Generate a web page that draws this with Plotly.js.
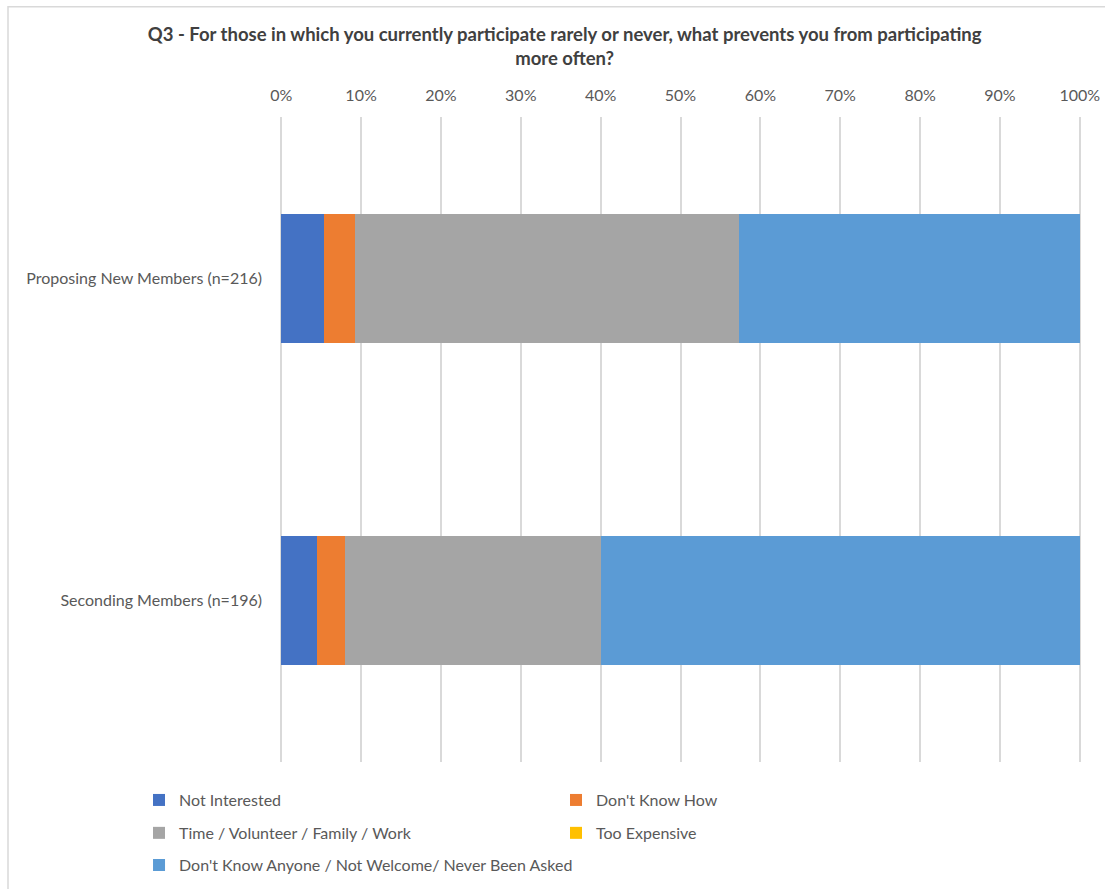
<!DOCTYPE html>
<html>
<head>
<meta charset="utf-8">
<script src="https://cdn.plot.ly/plotly-3.0.1.min.js"></script>
<style>html,body{margin:0;padding:0;background:#fff;}</style>
</head>
<body>
<div id="chart" style="width:1105px;height:889px;"></div>
<script>
const categories = ["Proposing New Members (n=216)", "Seconding Members (n=196)"];
const seriesNames = ["Not Interested", "Don't Know How", "Time / Volunteer / Family / Work", "Too Expensive", "Don't Know Anyone / Not Welcome/ Never Been Asked"];
const notInterested = [0.054, 0.045];
const dontKnowHow = [0.038, 0.035];
const timeVolunteer = [0.481, 0.321];
const tooExpensive = [0, 0];
const dontKnowAnyone = [0.427, 0.599];
const seriesColors = ["#4472C4", "#ED7D31", "#A5A5A5", "#FFC000", "#5B9BD5"];
const legendGroups = ["legend", "legend", "legend2", "legend2", "legend3"];
const tickVals = [0, 0.1, 0.2, 0.3, 0.4, 0.5, 0.6, 0.7, 0.8, 0.9, 1.0];
const tickText = ["0%", "10%", "20%", "30%", "40%", "50%", "60%", "70%", "80%", "90%", "100%"];

const seriesValues = [notInterested, dontKnowHow, timeVolunteer, tooExpensive, dontKnowAnyone];
const traces = seriesValues.map((vals, i) => ({
  type: 'bar',
  orientation: 'h',
  name: seriesNames[i],
  x: vals,
  y: categories,
  marker: {color: seriesColors[i]},
  legend: legendGroups[i],
  hoverinfo: 'x+name'
}));

const font = {family: 'Lato, "Open Sans", sans-serif', color: '#595959', size: 16};
const legendBase = {
  orientation: 'h',
  xref: 'paper', yref: 'paper',
  x: -0.176, xanchor: 'left', yanchor: 'middle',
  entrywidth: 372, entrywidthmode: 'pixels',
  font: {family: font.family, color: '#595959', size: 16},
  bgcolor: 'rgba(0,0,0,0)',
  traceorder: 'normal'
};

const layout = {
  width: 1105, height: 889,
  paper_bgcolor: '#ffffff', plot_bgcolor: '#ffffff',
  font: font,
  margin: {l: 280, r: 24, t: 117, b: 127, autoexpand: false},
  barmode: 'stack',
  bargap: 0.6,
  title: {
    text: '<b>Q3 - For those in which you currently participate rarely or never, what prevents you from participating<br>more often?</b>',
    font: {family: font.family, size: 18.5, color: '#404040'},
    x: 0.511, xref: 'container', xanchor: 'center',
    y: 0.954, yref: 'container', yanchor: 'middle'
  },
  xaxis: {
    side: 'top',
    range: [-0.0015, 1.0015],
    tickvals: tickVals,
    ticktext: tickText,
    showgrid: true,
    gridcolor: '#d9d9d9',
    gridwidth: 2,
    zeroline: false,
    showline: false,
    ticks: '',
    ticklabelstandoff: 12,
    automargin: false,
    tickfont: {family: font.family, size: 16, color: '#595959'},
    fixedrange: true
  },
  yaxis: {
    categoryorder: 'array',
    categoryarray: categories,
    autorange: 'reversed',
    showgrid: false,
    zeroline: false,
    showline: false,
    ticks: '',
    ticklabelstandoff: 17,
    automargin: false,
    tickfont: {family: font.family, size: 16, color: '#595959'},
    fixedrange: true
  },
  legend: Object.assign({}, legendBase, {y: -0.059}),
  legend2: Object.assign({}, legendBase, {y: -0.110}),
  legend3: Object.assign({}, legendBase, {y: -0.160, entrywidth: 600}),
  shapes: [{
    type: 'rect', xref: 'paper', yref: 'paper',
    x0: (8 - 280) / 801, x1: (1110 - 280) / 801,
    y0: (762.5 - 895) / 646, y1: (762.5 - 6) / 646,
    line: {color: '#d9d9d9', width: 1.5},
    fillcolor: 'rgba(0,0,0,0)',
    layer: 'below'
  }],
  showlegend: true
};

Plotly.newPlot('chart', traces, layout, {displayModeBar: false});
</script>
</body>
</html>
